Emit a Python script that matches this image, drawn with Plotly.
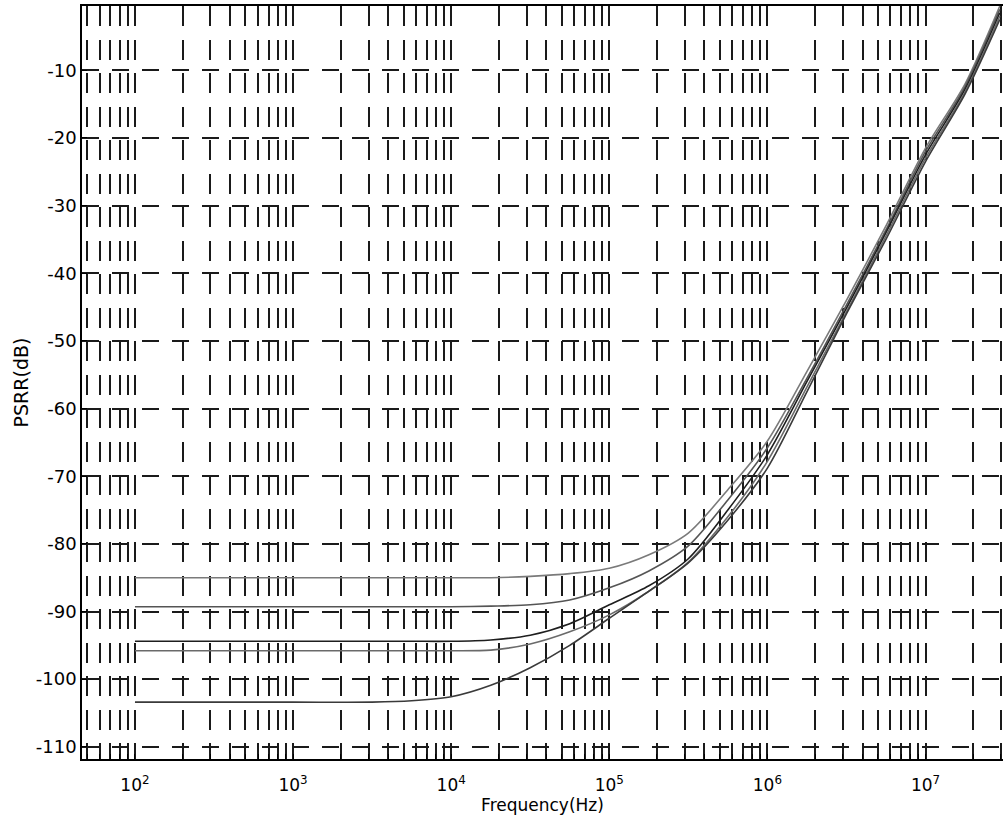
import plotly.graph_objects as go

# Frequency sample points (Hz)
freq = [100, 1000, 3160, 5620, 10000, 17800, 31600, 56200, 100000, 178000, 316000,
        562000, 1000000, 1780000, 3160000, 5620000, 10000000, 17800000, 29500000]

# PSRR (dB) for the five curves
psrr_a = [-85.0, -85.0, -85.0, -85.0, -85.0, -85.0, -84.8, -84.4, -83.6, -81.6, -78.4,
          -72.0, -64.8, -54.5, -44.0, -33.0, -21.5, -12.0, -0.5]
psrr_b = [-89.3, -89.3, -89.3, -89.3, -89.3, -89.2, -89.0, -88.3, -86.5, -84.0, -80.3,
          -73.5, -65.8, -55.5, -44.7, -33.6, -22.0, -12.4, -1.0]
psrr_c = [-94.4, -94.4, -94.4, -94.4, -94.4, -94.2, -93.5, -91.8, -89.0, -86.2, -82.2,
          -75.0, -66.8, -56.0, -45.2, -34.0, -22.5, -12.8, -1.5]
psrr_d = [-95.8, -95.8, -95.8, -95.8, -95.8, -95.7, -94.8, -93.0, -90.5, -87.0, -82.7,
          -76.0, -67.8, -56.8, -45.7, -34.5, -23.0, -13.2, -2.0]
psrr_e = [-103.4, -103.4, -103.4, -103.2, -102.6, -100.9, -98.3, -95.0, -91.0, -87.0, -82.8,
          -76.5, -68.8, -57.5, -46.0, -35.0, -23.5, -13.5, -2.5]

series = [psrr_a, psrr_b, psrr_c, psrr_d, psrr_e]
colors = ["#7a7a7a", "#555555", "#1e1e1e", "#6a6a6a", "#3a3a3a"]

# Axis ticks
x_decades = [2, 3, 4, 5, 6, 7]
y_ticks = [-10, -20, -30, -40, -50, -60, -70, -80, -90, -100, -110]

x_tickvals = []
x_ticktext = []
for e in range(1, 8):
    for m in range(1, 10):
        v = m * 10 ** e
        if v < 40 or v > 3.5e7:
            continue
        x_tickvals.append(v)
        x_ticktext.append(f"10<sup>{e}</sup>" if (m == 1 and e in x_decades) else "")

fig = go.Figure()
for ys, c in zip(series, colors):
    fig.add_trace(go.Scatter(x=freq, y=ys, mode="lines",
                             line=dict(color=c, width=1.6, shape="spline", smoothing=0.8),
                             showlegend=False, hoverinfo="skip"))

font = dict(family="DejaVu Sans, Liberation Sans, Arial, sans-serif", size=16, color="black")

fig.update_layout(
    width=1003, height=823,
    margin=dict(l=82, r=0, t=6, b=64),
    paper_bgcolor="white", plot_bgcolor="white",
    font=font,
    xaxis=dict(
        type="log", range=[1.665, 7.49],
        tickvals=x_tickvals, ticktext=x_ticktext,
        showgrid=True, gridcolor="#1a1a1a", gridwidth=1.5, griddash="20px,13.5px",
        ticks="inside", ticklen=5, tickcolor="black",
        showline=True, linecolor="black", linewidth=1.5, mirror=True,
        zeroline=False, automargin=False,
        tickfont=dict(size=17), ticklabelstandoff=10,
        title=dict(text="Frequency(Hz)", font=dict(size=17), standoff=0),
    ),
    yaxis=dict(
        range=[-111.8, -0.5],
        tickvals=y_ticks, ticktext=[str(v) for v in y_ticks],
        showgrid=True, gridcolor="#1a1a1a", gridwidth=1.5, griddash="17px,13px",
        ticks="inside", ticklen=5, tickcolor="black",
        showline=True, linecolor="black", linewidth=1.5, mirror=True,
        zeroline=False, automargin=False,
        tickfont=dict(size=18),
        title=dict(text="PSRR(dB)", font=dict(size=19), standoff=2),
    ),
)

fig.write_html("out.html", config={"displayModeBar": False},
               post_script="document.body.style.margin='0';")
